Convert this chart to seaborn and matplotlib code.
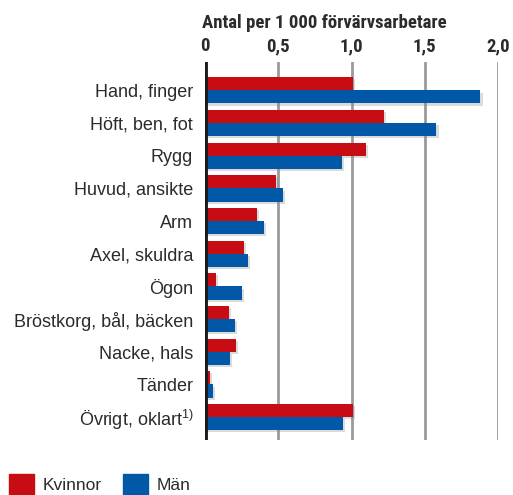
import numpy as np
import pandas as pd
import matplotlib
matplotlib.use("Agg")
import matplotlib.pyplot as plt
import matplotlib.patheffects as pe
import seaborn as sns

# data
kroppsdelar = ["Hand, finger", "Höft, ben, fot", "Rygg", "Huvud, ansikte", "Arm",
               "Axel, skuldra", "Ögon", "Bröstkorg, bål, bäcken", "Nacke, hals",
               "Tänder", "Övrigt, oklart$^{1)}$"]
kvinnor = [1.01, 1.22, 1.10, 0.485, 0.355, 0.265, 0.075, 0.165, 0.21, 0.035, 1.01]
man = [1.88, 1.58, 0.935, 0.53, 0.40, 0.295, 0.25, 0.205, 0.17, 0.055, 0.94]
grupper = ["Kvinnor", "Män"]
farger = ["#C80C14", "#0058A6"]
xticks = [0, 0.5, 1.0, 1.5, 2.0]
xtick_labels = ["0", "0,5", "1,0", "1,5", "2,0"]

df = pd.DataFrame({
    "del": kroppsdelar * 2,
    "varde": kvinnor + man,
    "kon": [grupper[0]] * len(kvinnor) + [grupper[1]] * len(man),
})

sns.set_style("white")
plt.rcParams['font.family'] = ['Liberation Sans', 'DejaVu Sans']
plt.rcParams['mathtext.fontset'] = 'custom'
plt.rcParams['mathtext.rm'] = 'Liberation Sans'
plt.rcParams['mathtext.it'] = 'Liberation Sans'
cond = ['Roboto Condensed', 'DejaVu Sans']
textfarg = "#2b2b2b"

fig = plt.figure(figsize=(5.13, 4.95), dpi=100)
ax = fig.add_axes([205 / 513, 1 - 440 / 495, 293 / 513, 378 / 495])

sns.barplot(data=df, x="varde", y="del", hue="kon", palette=farger,
            orient="h", width=0.8, saturation=1, ax=ax, zorder=3, legend=False)

for p in ax.patches:
    p.set_linewidth(0)
    p.set_path_effects([pe.SimplePatchShadow(offset=(1.5, -1.5), shadow_rgbFace="#888888", alpha=0.3),
                        pe.Normal()])

ax.set_xlim(0, 2.0)
ax.set_ylim(10.7, -0.87)
ax.set_xlabel("")
ax.set_ylabel("")

# grid lines and zero line
for x in xticks[1:]:
    ax.axvline(x, color="#9a9a9a", lw=2, zorder=1)
ax.axvline(0, color="#1a1a1a", lw=3.5, zorder=4)

for s in ax.spines.values():
    s.set_visible(False)

ax.xaxis.tick_top()
ax.set_xticks(xticks)
ax.set_xticklabels(xtick_labels, fontsize=13.5, fontweight="bold", family=cond, color=textfarg)
ax.tick_params(axis="x", length=0, pad=5)
ax.tick_params(axis="y", length=0, pad=8.5, labelsize=13, labelcolor=textfarg)

fig.text(202 / 513, 1 - 28 / 495, "Antal per 1 000 förvärvsarbetare", fontsize=13.5,
         fontweight="bold", family=cond, color=textfarg, va="baseline", ha="left")

# legend
handles = [plt.Rectangle((0, 0), 1, 1, color=c) for c in farger]
leg = fig.legend(handles, grupper, loc="upper left", bbox_to_anchor=(9 / 513, 1 - 474 / 495),
                 ncol=2, frameon=False, fontsize=12.5, handlelength=1.44, handleheight=1.44,
                 handletextpad=0.5, columnspacing=1.2, borderaxespad=0, borderpad=0)
for t in leg.get_texts():
    t.set_color(textfarg)

fig.savefig("out.png", dpi=100)
